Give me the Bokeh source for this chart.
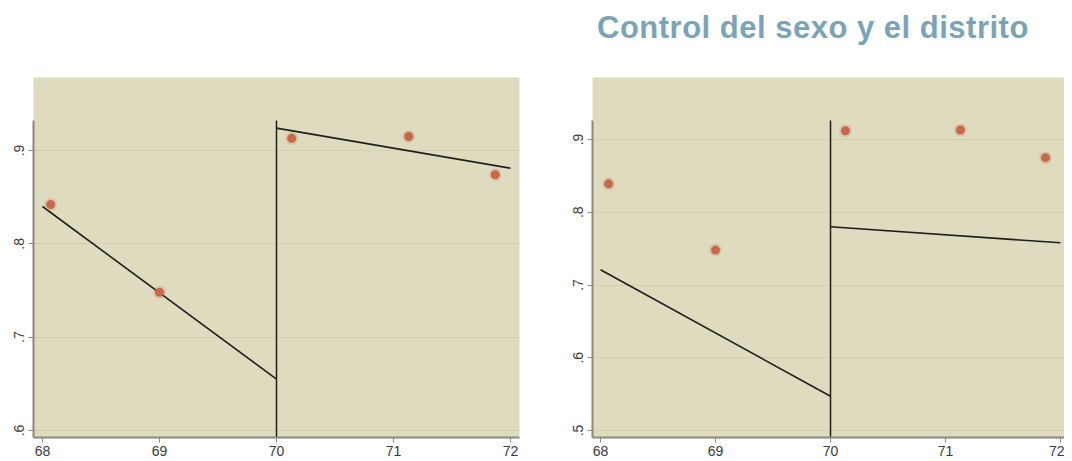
from bokeh.plotting import figure
from bokeh.layouts import column, row
from bokeh.models import Div, FixedTicker, CustomJSTickFormatter
from bokeh.embed import file_html
from bokeh.resources import INLINE

# ---- data ----
title_text = "Control del sexo y el distrito"
cutoff = 70
x_ticks = [68, 69, 70, 71, 72]
x_points = [68.07, 69.0, 70.13, 71.13, 71.87]

left_y = [0.842, 0.748, 0.913, 0.915, 0.874]
left_pre_x = [68, 70]
left_pre_y = [0.840, 0.655]
left_post_x = [70, 72]
left_post_y = [0.924, 0.881]
left_yticks = [0.6, 0.7, 0.8, 0.9]

right_y = [0.839, 0.748, 0.912, 0.913, 0.875]
right_pre_x = [68, 70]
right_pre_y = [0.721, 0.547]
right_post_x = [70, 72]
right_post_y = [0.780, 0.758]
right_yticks = [0.5, 0.6, 0.7, 0.8, 0.9]

BG = "#DFDBBF"
AXIS = "#8A8A7C"
GRID = "#D3CEAE"
PT = "#C7674B"
LINE = "#1E1E1E"
FONT = "Liberation Sans"


def make_panel(ys, pre_x, pre_y, post_x, post_y, yticks, xr, yr, ybounds,
               width, mbl, mbr):
    p = figure(width=width, height=403, x_range=xr, y_range=yr,
               output_backend="svg", toolbar_location=None,
               min_border_left=mbl, min_border_right=mbr,
               min_border_top=19, min_border_bottom=24)
    p.background_fill_color = BG
    p.border_fill_color = "white"
    p.outline_line_color = None
    p.xgrid.grid_line_color = None
    p.ygrid.grid_line_color = GRID
    p.ygrid.grid_line_width = 1
    p.ygrid.ticker = FixedTicker(ticks=yticks)

    p.xaxis.ticker = FixedTicker(ticks=x_ticks)
    p.yaxis.ticker = FixedTicker(ticks=yticks)
    p.yaxis.formatter = CustomJSTickFormatter(
        code="return tick.toFixed(1).replace(/^0/, '');")
    p.yaxis.bounds = ybounds
    p.yaxis.major_label_orientation = "vertical"
    for ax in (p.xaxis, p.yaxis):
        ax.axis_line_color = AXIS
        ax.axis_line_width = 2
        ax.major_tick_line_color = AXIS
        ax.major_tick_out = 5
        ax.major_tick_in = 0
        ax.minor_tick_line_color = None
        ax.major_label_text_font = FONT
        ax.major_label_text_font_size = "14px"
        ax.major_label_text_color = "#3a3a3a"
    p.xaxis.major_label_standoff = 3
    p.yaxis.major_label_standoff = 4

    p.segment(x0=[cutoff], y0=[ybounds[0]], x1=[cutoff], y1=[ybounds[1]],
              line_color=LINE, line_width=1.5)
    p.line(pre_x, pre_y, line_color=LINE, line_width=1.6)
    p.line(post_x, post_y, line_color=LINE, line_width=1.6)
    p.scatter(x_points, ys, size=13, color=PT, alpha=0.2, line_color=None)
    p.scatter(x_points, ys, size=9, color=PT, line_color=None)
    return p


p1 = make_panel(left_y, left_pre_x, left_pre_y, left_post_x, left_post_y,
                left_yticks, (67.923, 72.077), (0.5925, 0.9782),
                (0.5925, 0.932), 560, 33, 41)
p2 = make_panel(right_y, right_pre_x, right_pre_y, right_post_x, right_post_y,
                right_yticks, (67.930, 72.035), (0.4904, 0.9852),
                (0.4904, 0.926), 504, 32, 0)

title = Div(
    text=('<div style="padding:12px 0 0 597px; font-family:\'Liberation Sans\', Arial, sans-serif;'
          ' font-weight:bold; font-size:31px; line-height:31px; letter-spacing:0.5px;'
          ' color:#7BA3B6; white-space:nowrap;">' + title_text + '</div>'),
    width=1064, height=58, margin=(0, 0, 0, 0))

layout = column(title, row(p1, p2, spacing=0), spacing=0)

open("out.html", "w").write(file_html(layout, INLINE))
